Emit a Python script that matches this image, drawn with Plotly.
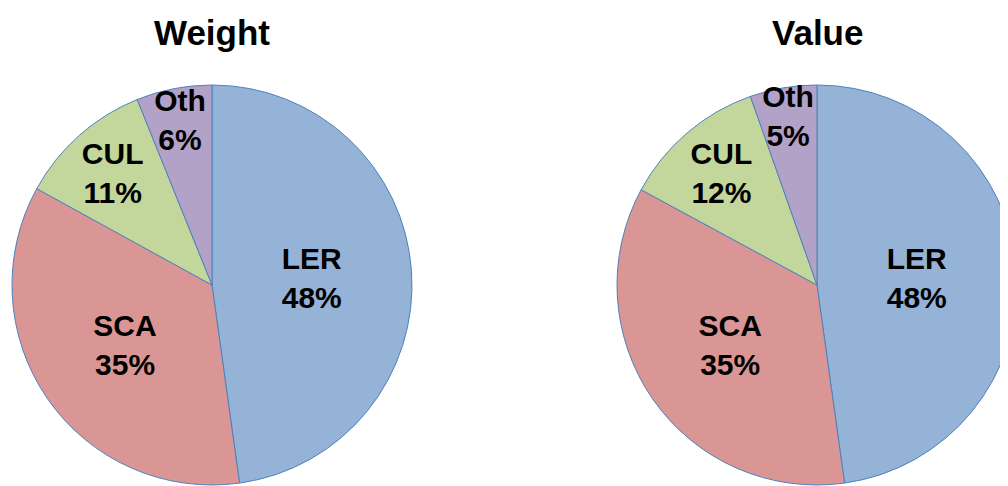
import plotly.graph_objects as go

categories = ["LER", "SCA", "CUL", "Oth"]
weight_values = [47.8, 35.2, 10.9, 6.1]
value_values = [47.8, 35.1, 11.7, 5.4]
titles = ["Weight", "Value"]

colors = ["#95B3D7", "#D99694", "#C3D69B", "#B3A2C7"]
line_color = "#4F81BD"
font_family = "Liberation Sans, Arial, sans-serif"

# page body has an 8px margin; the figure is larger than the window so the
# pies are cropped at the bottom/right like the reference
OFF = 8
W, H = 1040, 500
R = 200
CY = 285 - OFF
centers_x = [212 - OFF, 817 - OFF]


def domain(cx):
    return dict(
        x=[(cx - R) / W, (cx + R) / W],
        y=[1 - (CY + R) / H, 1 - (CY - R) / H],
    )


fig = go.Figure()

common = dict(
    labels=categories,
    sort=False,
    direction="clockwise",
    rotation=0,
    marker=dict(colors=colors, line=dict(color=line_color, width=1)),
    textposition="inside",
    insidetextorientation="horizontal",
    texttemplate="<b>%{label}<br>%{percent:.0%}</b>",
    textfont=dict(family=font_family, size=30, color="black"),
    hoverinfo="label+percent",
    showlegend=False,
)

fig.add_trace(go.Pie(values=weight_values, domain=domain(centers_x[0]), **common))
fig.add_trace(go.Pie(values=value_values, domain=domain(centers_x[1]), **common))

for title, cx in zip(titles, centers_x):
    fig.add_annotation(
        text="<b>%s</b>" % title, x=cx / W, y=1 - (32 - OFF) / H,
        xref="paper", yref="paper",
        showarrow=False, xanchor="center", yanchor="middle",
        font=dict(family=font_family, size=35, color="black"),
    )

fig.update_layout(
    width=W, height=H,
    margin=dict(l=0, r=0, t=0, b=0),
    paper_bgcolor="white", plot_bgcolor="white",
    uniformtext=dict(minsize=30, mode="show"),
)

fig.write_html("out.html")
